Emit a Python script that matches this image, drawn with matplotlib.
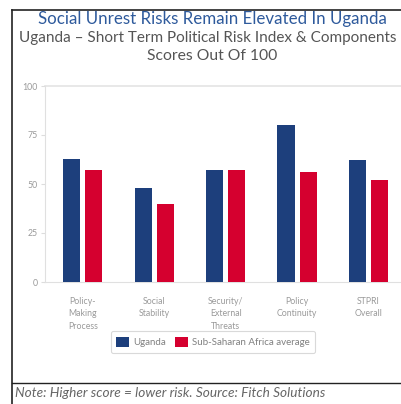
import matplotlib
matplotlib.use('Agg')
import matplotlib.pyplot as plt
import numpy as np
from matplotlib.lines import Line2D

# Datos del gráfico
categories = ['Policy-\nMaking\nProcess', 'Social\nStability', 'Security/\nExternal\nThreats',
              'Policy\nContinuity', 'STPRI\nOverall']
uganda = [63, 48, 57, 80, 62]
ssa_avg = [57, 40, 57, 56, 52]
series_names = ['Uganda', 'Sub-Saharan Africa average']
y_ticks = [0, 25, 50, 75, 100]

navy = '#1d3f7c'
red = '#d5002f'

plt.rcParams['font.family'] = ['Lato', 'DejaVu Sans']

fig = plt.figure(figsize=(4.02, 4.04), dpi=100)
W, H = 402, 404

# Ejes del gráfico
ax = fig.add_axes([45 / W, (H - 282) / H, (W - 45) / W, 196 / H])
x = np.arange(len(categories))
w = 0.24
ax.bar(x - 0.155, uganda, w, color=navy, label=series_names[0], zorder=3)
ax.bar(x + 0.155, ssa_avg, w, color=red, label=series_names[1], zorder=3)
ax.set_xlim(-0.53, 4.47)
ax.set_ylim(0, 100)
ax.set_yticks(y_ticks)
ax.set_yticklabels([str(t) for t in y_ticks], fontsize=6.3, color='#9a9a9a')
ax.set_xticks(x)
ax.set_xticklabels(categories, fontsize=6.3, color='#9a9a9a', linespacing=1.45)
ax.tick_params(axis='y', length=3, color='#dddddd', pad=2)
ax.tick_params(axis='x', length=0, pad=11)
ax.axhline(100, color='#e4e4e4', lw=1.2, zorder=1, clip_on=False)
for side in ['top', 'right']:
    ax.spines[side].set_visible(False)
ax.spines['left'].set_color('#e0e0e0')
ax.spines['bottom'].set_color('#e0e0e0')

leg = fig.legend(loc='center', bbox_to_anchor=(213 / W, (H - 342) / H), ncol=2,
                 fontsize=7, frameon=True, handlelength=1.3, handleheight=1.3,
                 handletextpad=0.45, columnspacing=0.9, borderpad=0.55, fancybox=True)
leg.get_frame().set_edgecolor('#d0d0d0')
leg.get_frame().set_linewidth(0.8)
for t in leg.get_texts():
    t.set_color('#808080')

# Títulos
fig.text(212 / W, (H - 19) / H, 'Social Unrest Risks Remain Elevated In Uganda',
         ha='center', va='center', fontsize=12.2, color='#2e5a9c')
fig.text(208 / W, (H - 38) / H, 'Uganda \u2013 Short Term Political Risk Index & Components',
         ha='center', va='center', fontsize=11.0, color='#555555')
fig.text(212 / W, (H - 56) / H, 'Scores Out Of 100',
         ha='center', va='center', fontsize=11.3, color='#555555')

# Nota
fig.text(15 / W, (H - 393) / H, 'Note: Higher score = lower risk. Source: Fitch Solutions',
         ha='left', va='center', fontsize=9.8, style='italic', color='#666666')

# Marco
fig.add_artist(Line2D([12 / W, 12 / W], [0, (H - 10) / H], color='#222222', lw=1.2))
fig.add_artist(Line2D([12 / W, 1], [(H - 10) / H, (H - 10) / H], color='#222222', lw=1.2))
fig.add_artist(Line2D([12 / W, 1], [(H - 383) / H, (H - 383) / H], color='#222222', lw=1.0))

fig.savefig('out.png', dpi=100)
